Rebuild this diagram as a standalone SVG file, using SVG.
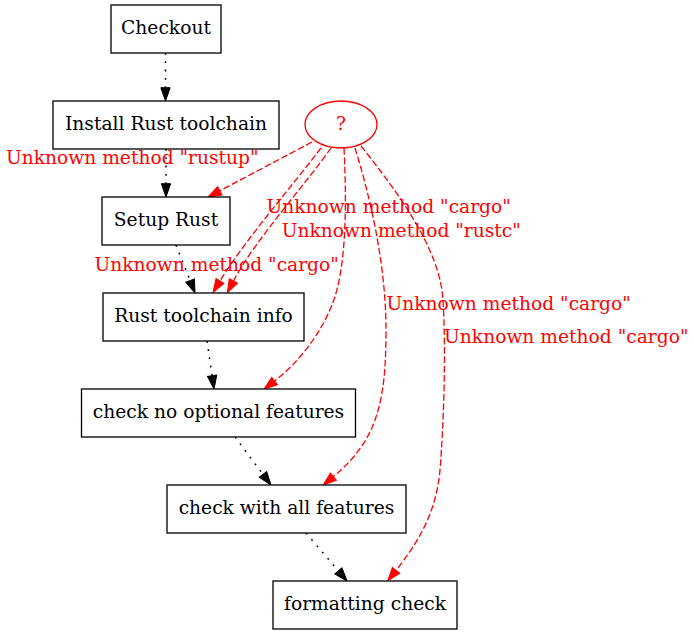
<svg xmlns="http://www.w3.org/2000/svg" width="694" height="635" viewBox="0 0 694 635">
<style>
.node rect{fill:#fff;stroke:#000;stroke-width:1.3}
.nt{font-family:"DejaVu Serif","Liberation Serif",serif;font-size:18.67px;fill:#000;text-anchor:middle}
.dot{fill:none;stroke:#000;stroke-width:1.5;stroke-dasharray:1.8,6.5}
.dash{fill:none;stroke:#f00;stroke-width:1.3;stroke-dasharray:6.67,2.67}
.lbl{font-family:"DejaVu Serif","Liberation Serif",serif;font-size:18.67px;fill:#f00;text-anchor:middle}
</style>
<defs>
<marker id="ab" viewBox="0 0 13.3 9.33" refX="0" refY="4.67" markerWidth="13.3" markerHeight="9.33" markerUnits="userSpaceOnUse" orient="auto" overflow="visible"><path d="M0,0 L13.3,4.67 L0,9.33 z" fill="#000" stroke="#000" stroke-width="1"/></marker>
<marker id="ar" viewBox="0 0 13.3 9.33" refX="0" refY="4.67" markerWidth="13.3" markerHeight="9.33" markerUnits="userSpaceOnUse" orient="auto" overflow="visible"><path d="M0,0 L13.3,4.67 L0,9.33 z" fill="#f00" stroke="#f00" stroke-width="1"/></marker>
</defs>
<rect width="694" height="635" fill="#fff"/>
<g id="edges">
<path class="dot" d="M165.5,53 L165.5,87.7" marker-end="url(#ab)"/>
<path class="dot" d="M166,149 L166,183.7" marker-end="url(#ab)"/>
<path class="dot" d="M176,245 L190.1,280.6" marker-end="url(#ab)"/>
<path class="dot" d="M207,341 L212.1,375.8" marker-end="url(#ab)"/>
<path class="dot" d="M235,437 L263,474.4" marker-end="url(#ab)"/>
<path class="dot" d="M306,533 L338.4,570.9" marker-end="url(#ab)"/>
<path class="dash" d="M312,142 L219.8,190.8" marker-end="url(#ar)"/>
<path class="dash" d="M321,148 C293,185 245,240 220,281" marker-end="url(#ar)"/>
<path class="dash" d="M331,148 C305,185 255,240 233.5,281" marker-end="url(#ar)"/>
<path class="dash" d="M344,148 C347,210 346,270 332,305 C320,335 298,363 274.6,381" marker-end="url(#ar)"/>
<path class="dash" d="M355,148 C368,190 386,260 386,330 C386,400 378,440 333.4,476.6" marker-end="url(#ar)"/>
<path class="dash" d="M361,146 C400,195 440,250 443,300 C446,350 444,420 440,470 C436,515 416,545 396,570.4" marker-end="url(#ar)"/>
<text class="lbl" x="132.3" y="164">Unknown method "rustup"</text>
<text class="lbl" x="388.7" y="213">Unknown method "cargo"</text>
<text class="lbl" x="401.3" y="236.7">Unknown method "rustc"</text>
<text class="lbl" x="216.7" y="271">Unknown method "cargo"</text>
<text class="lbl" x="508.7" y="310">Unknown method "cargo"</text>
<text class="lbl" x="566.3" y="342.5">Unknown method "cargo"</text>
</g>
<g id="checkout" class="node"><rect x="111" y="5" width="110" height="48"/><text class="nt" x="166" y="34">Checkout</text></g>
<g id="install" class="node"><rect x="53" y="101" width="226" height="48"/><text class="nt" x="166" y="130">Install Rust toolchain</text></g>
<g id="unknown"><ellipse cx="341" cy="124.5" rx="36" ry="23.5" fill="#fff" stroke="#f00" stroke-width="1.3"/><text class="lbl" x="341" y="130">?</text></g>
<g id="setup" class="node"><rect x="102" y="197" width="128" height="48"/><text class="nt" x="166" y="226">Setup Rust</text></g>
<g id="info" class="node"><rect x="103" y="293" width="201" height="48"/><text class="nt" x="203.5" y="322">Rust toolchain info</text></g>
<g id="noopt" class="node"><rect x="81.5" y="389" width="274" height="48"/><text class="nt" x="218.5" y="418">check no optional features</text></g>
<g id="allfeat" class="node"><rect x="167" y="485" width="239" height="48"/><text class="nt" x="286.5" y="514">check with all features</text></g>
<g id="fmt" class="node"><rect x="273" y="581" width="184" height="48"/><text class="nt" x="365" y="610">formatting check</text></g>
</svg>
